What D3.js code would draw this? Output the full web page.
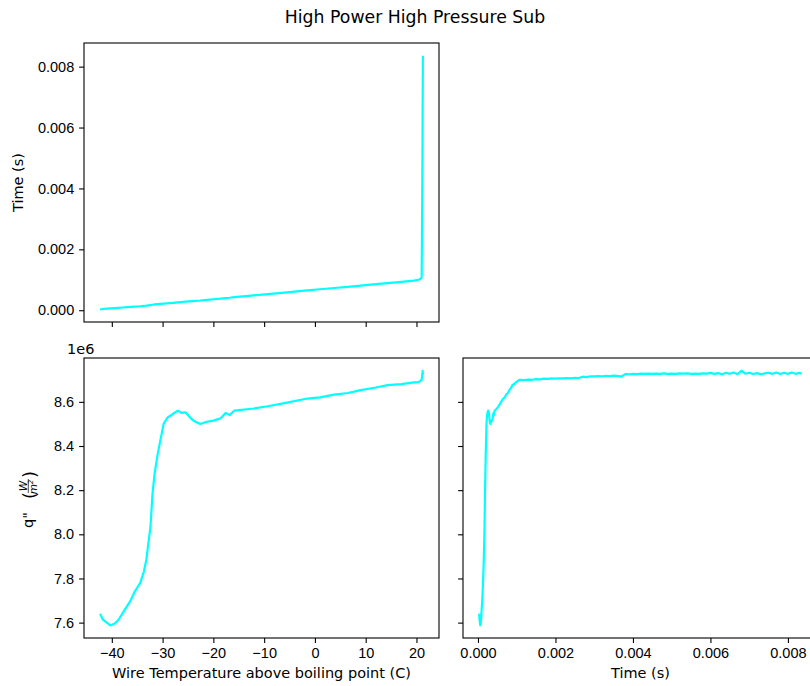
<!DOCTYPE html>
<html>
<head>
<meta charset="utf-8">
<script src="https://cdn.jsdelivr.net/npm/d3@7"></script>
<style>
body { margin: 0; background: #fff; }
svg { font-family: "DejaVu Sans", sans-serif; }
.eje text { font-size: 14.5px; fill: #000; }
.eje line { stroke: #000; stroke-width: 1.1; }
.eje path { display: none; }
.marco { fill: none; stroke: #000; stroke-width: 1.1; }
.curva { fill: none; stroke: #00ffff; stroke-width: 2.2; stroke-linejoin: round; }
</style>
</head>
<body>
<div id="graf"></div>
<script>
// -- Datos: una muestra por instante, en orden temporal --
// tiempo (s), temperatura del hilo sobre ebullicion (C), flujo q'' (x1e6 W/m2)
tiempo = [
  0.00003, 0.00004, 0.00005, 0.00006, 0.00007, 0.00008, 0.00009, 0.00010, 0.00011, 0.00012,
  0.00013, 0.00014, 0.00015, 0.00016, 0.00017, 0.00018, 0.00019, 0.00020, 0.00021, 0.00022,
  0.00023, 0.00024, 0.00026, 0.00027, 0.00028, 0.00029, 0.00030, 0.00031, 0.00032, 0.00034,
  0.00036, 0.00038, 0.00040, 0.00041, 0.00043, 0.00049, 0.00053, 0.00058, 0.00065, 0.00069,
  0.00073, 0.00077, 0.00081, 0.00086, 0.00089, 0.00093, 0.00097, 0.00100, 0.00103, 0.00107,
  0.00110, 0.00120, 0.00130, 0.00140, 0.00150, 0.00160, 0.00170, 0.00180, 0.00190, 0.00200,
  0.00210, 0.00220, 0.00230, 0.00240, 0.00250, 0.00260, 0.00270, 0.00280, 0.00290, 0.00300,
  0.00310, 0.00320, 0.00330, 0.00340, 0.00350, 0.00360, 0.00370, 0.00380, 0.00390, 0.00400,
  0.00410, 0.00420, 0.00430, 0.00440, 0.00450, 0.00460, 0.00470, 0.00480, 0.00490, 0.00500,
  0.00510, 0.00520, 0.00530, 0.00540, 0.00550, 0.00560, 0.00570, 0.00580, 0.00590, 0.00600,
  0.00610, 0.00620, 0.00630, 0.00640, 0.00650, 0.00660, 0.00670, 0.00680, 0.00690, 0.00700,
  0.00710, 0.00720, 0.00730, 0.00740, 0.00750, 0.00760, 0.00770, 0.00780, 0.00790, 0.00800,
  0.00810, 0.00820, 0.00830, 0.00836
]

temperatura = [
  -42.3, -41.8, -41.0, -40.3, -39.5, -38.7, -37.8, -37.0, -36.3, -35.5,
  -34.4, -33.7, -33.2, -32.8, -32.4, -32.0, -31.6, -31.0, -30.4, -29.8,
  -29.0, -28.0, -27.0, -26.3, -25.5, -24.8, -24.2, -23.5, -22.6, -21.3,
  -20.0, -18.6, -17.6, -16.8, -15.9, -12.0, -9.3, -6.0, -1.5, 1.0,
  3.75, 6.5, 9.0, 12.0, 14.3, 17.0, 19.5, 20.4, 20.8, 21.0,
  21.02, 21.03, 21.03, 21.04, 21.04, 21.05, 21.05, 21.06, 21.06, 21.06,
  21.07, 21.07, 21.08, 21.08, 21.08, 21.09, 21.09, 21.10, 21.10, 21.10,
  21.11, 21.11, 21.12, 21.12, 21.12, 21.13, 21.13, 21.14, 21.14, 21.14,
  21.15, 21.15, 21.15, 21.16, 21.16, 21.16, 21.17, 21.17, 21.17, 21.18,
  21.18, 21.18, 21.18, 21.19, 21.19, 21.19, 21.20, 21.20, 21.20, 21.20,
  21.21, 21.21, 21.21, 21.21, 21.22, 21.22, 21.22, 21.22, 21.23, 21.23,
  21.23, 21.23, 21.24, 21.24, 21.24, 21.24, 21.25, 21.25, 21.25, 21.25,
  21.25, 21.25, 21.26, 21.26
]

flujo = [
  7.640, 7.615, 7.600, 7.588, 7.595, 7.612, 7.645, 7.675, 7.700, 7.740,
  7.780, 7.830, 7.885, 7.960, 8.030, 8.180, 8.270, 8.360, 8.430, 8.500,
  8.530, 8.545, 8.560, 8.550, 8.553, 8.535, 8.520, 8.510, 8.500, 8.510,
  8.515, 8.525, 8.550, 8.540, 8.560, 8.570, 8.580, 8.594, 8.615, 8.620,
  8.633, 8.640, 8.653, 8.665, 8.676, 8.680, 8.688, 8.690, 8.695, 8.700,
  8.700, 8.699, 8.701, 8.700, 8.703, 8.702, 8.705, 8.704, 8.706, 8.705,
  8.707, 8.706, 8.708, 8.707, 8.709, 8.708, 8.714, 8.712, 8.716, 8.715,
  8.717, 8.716, 8.718, 8.717, 8.719, 8.718, 8.714, 8.726, 8.725, 8.727,
  8.726, 8.728, 8.727, 8.728, 8.727, 8.728, 8.727, 8.729, 8.727, 8.728,
  8.727, 8.729, 8.728, 8.729, 8.727, 8.728, 8.727, 8.729, 8.728, 8.731,
  8.727, 8.730, 8.725, 8.732, 8.727, 8.733, 8.725, 8.741, 8.728, 8.732,
  8.726, 8.730, 8.725, 8.729, 8.732, 8.727, 8.733, 8.726, 8.732, 8.727,
  8.733, 8.727, 8.731, 8.728
]

ticksTemp   = [-40, -30, -20, -10, 0, 10, 20]
ticksTiempo = [0, 0.002, 0.004, 0.006, 0.008]
ticksFlujo  = [7.6, 7.8, 8.0, 8.2, 8.4, 8.6]

datos = tiempo.map((t, i) => ({ t: t, T: temperatura[i], q: flujo[i] }))

// -- Canvas --
ancho_total = 810
alto_total = 686

svg = d3.select('#graf').append('svg')
        .attr('width', ancho_total)
        .attr('height', alto_total)

// paneles (ax superior izq, inferior izq, inferior der)
pA = { x: 84,  y: 43,  w: 355, h: 279 }
pB = { x: 84,  y: 358, w: 355, h: 280 }
pC = { x: 463, y: 358, w: 355, h: 280 }

// dominio con margen del 5% como matplotlib
function conMargen(arr) {
    ext = d3.extent(arr)
    m = (ext[1] - ext[0]) * 0.05
    return [ext[0] - m, ext[1] + m]
}

// -- Escaladores --
xTemp = d3.scaleLinear().domain(conMargen(temperatura)).range([0, pA.w])
yTiempo = d3.scaleLinear().domain(conMargen(tiempo)).range([pA.h, 0])
yFlujo = d3.scaleLinear().domain(conMargen(flujo)).range([pB.h, 0])
xTiempo = d3.scaleLinear().domain(conMargen(tiempo)).range([0, pC.w])

tick = 4.9

function panel(p) {
    return svg.append('g').attr('transform', `translate(${p.x}, ${p.y})`)
}

// -- Panel A: tiempo vs temperatura --
gA = panel(pA)
gA.append('path')
  .datum(datos)
  .attr('class', 'curva')
  .attr('d', d3.line().x(d => xTemp(d.T)).y(d => yTiempo(d.t)))
gA.append('g').attr('class', 'eje')
  .call(d3.axisLeft(yTiempo).tickValues(ticksTiempo).tickFormat(d3.format('.3f'))
          .tickSize(tick).tickPadding(tick))
gA.append('g').attr('class', 'eje')
  .attr('transform', `translate(0, ${pA.h})`)
  .call(d3.axisBottom(xTemp).tickValues(ticksTemp).tickFormat('').tickSize(tick))
gA.append('rect').attr('class', 'marco').attr('width', pA.w).attr('height', pA.h)
gA.append('text')
  .attr('transform', `translate(${-pA.x + 23}, ${pA.h / 2}) rotate(-90)`)
  .attr('text-anchor', 'middle')
  .style('font-size', '14.5px')
  .text('Time (s)')

// -- Panel B: flujo vs temperatura --
gB = panel(pB)
gB.append('path')
  .datum(datos)
  .attr('class', 'curva')
  .attr('d', d3.line().x(d => xTemp(d.T)).y(d => yFlujo(d.q)))
gB.append('g').attr('class', 'eje')
  .call(d3.axisLeft(yFlujo).tickValues(ticksFlujo).tickFormat(d3.format('.1f'))
          .tickSize(tick).tickPadding(tick))
gB.append('g').attr('class', 'eje')
  .attr('transform', `translate(0, ${pB.h})`)
  .call(d3.axisBottom(xTemp).tickValues(ticksTemp).tickFormat(d3.format('d'))
          .tickSize(tick).tickPadding(tick))
gB.append('rect').attr('class', 'marco').attr('width', pB.w).attr('height', pB.h)
gB.append('text')
  .attr('x', pB.w / 2)
  .attr('y', pB.h + 40)
  .attr('text-anchor', 'middle')
  .style('font-size', '14.5px')
  .text('Wire Temperature above boiling point (C)')
gB.append('text')
  .attr('x', -17)
  .attr('y', -4)
  .style('font-size', '14.5px')
  .text('1e6')

// etiqueta q'' (W / m^2) rotada
lab = gB.append('g')
        .attr('transform', `translate(${-pB.x + 33}, ${pB.h / 2}) rotate(-90)`)
lab.append('text').attr('x', -30).attr('y', 0).style('font-size', '14.5px').text('q"')
lab.append('text').attr('x', -1).attr('y', 3).style('font-size', '18px').text('(')
lab.append('text').attr('x', 12).attr('y', -6.5).attr('text-anchor', 'middle')
   .style('font-size', '10.5px').style('font-style', 'italic').text('W')
lab.append('line').attr('x1', 5).attr('x2', 19).attr('y1', -4.7).attr('y2', -4.7)
   .attr('stroke', '#000').attr('stroke-width', 0.7)
lab.append('text').attr('x', 11).attr('y', 4).attr('text-anchor', 'middle')
   .style('font-size', '10.5px').style('font-style', 'italic')
   .text('m').append('tspan').attr('dy', -4).style('font-size', '7px').text('2')
lab.append('text').attr('x', 20).attr('y', 3).style('font-size', '18px').text(')')

// -- Panel C: flujo vs tiempo --
gC = panel(pC)
gC.append('path')
  .datum(datos)
  .attr('class', 'curva')
  .attr('d', d3.line().x(d => xTiempo(d.t)).y(d => yFlujo(d.q)))
gC.append('g').attr('class', 'eje')
  .call(d3.axisLeft(yFlujo).tickValues(ticksFlujo).tickFormat('').tickSize(tick))
gC.append('g').attr('class', 'eje')
  .attr('transform', `translate(0, ${pC.h})`)
  .call(d3.axisBottom(xTiempo).tickValues(ticksTiempo).tickFormat(d3.format('.3f'))
          .tickSize(tick).tickPadding(tick))
gC.append('rect').attr('class', 'marco').attr('width', pC.w).attr('height', pC.h)
gC.append('text')
  .attr('x', pC.w / 2)
  .attr('y', pC.h + 40)
  .attr('text-anchor', 'middle')
  .style('font-size', '14.5px')
  .text('Time (s)')

// -- Titulo --
svg.append('text')
   .attr('x', 415)
   .attr('y', 23)
   .attr('text-anchor', 'middle')
   .style('font-size', '17.3px')
   .text('High Power High Pressure Sub')
</script>
</body>
</html>
